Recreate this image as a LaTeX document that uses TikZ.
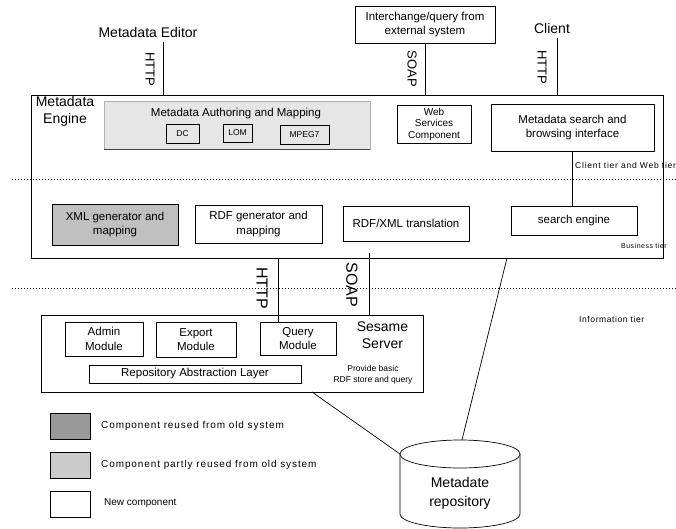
\documentclass[tikz,border=0pt]{standalone}
\usepackage{fontspec}
\setmainfont{Liberation Sans}
\newfontfamily\spacedfont[LetterSpace=9]{Liberation Sans}
\newfontfamily\lightspacedfont[LetterSpace=7]{Liberation Sans}
\definecolor{authfill}{HTML}{E6E6E6}
\definecolor{reusedfill}{HTML}{C0C0C0}
\definecolor{legdark}{HTML}{999999}
\definecolor{leglight}{HTML}{CCCCCC}
\begin{document}
\begin{tikzpicture}[x=1pt,y=-1pt,
  comp/.style={draw, line width=0.7pt, inner sep=0pt, align=center, font=\fontsize{11.5}{14.5}\selectfont},
  tagbox/.style={draw, line width=0.7pt, inner sep=0pt, font=\fontsize{8.5}{10}\selectfont},
  bigtext/.style={align=center, inner sep=0pt, font=\fontsize{14}{17.5}\selectfont},
  proto/.style={rotate=-90, inner sep=0pt, font=\fontsize{13}{13}\selectfont},
  protobig/.style={rotate=-90, inner sep=0pt, font=\fontsize{16}{16}\selectfont},
  link/.style={line width=0.7pt},
  tierline/.style={line width=0.9pt, dash pattern=on 0.9pt off 2.1pt},
  tiertext/.style={anchor=west, inner sep=0pt},
  legbox/.style={draw, line width=0.7pt, minimum width=40pt, minimum height=26pt, inner sep=0pt},
  legtext/.style={anchor=west, inner sep=0pt, font=\spacedfont\fontsize{10}{12}\selectfont},
]
\useasboundingbox (0,0) rectangle (676,529);

% tier separators
\draw[tierline] (12,179) -- (676,179);
\draw[tierline] (12,288) -- (676,288);

% outer engine frame
\node[draw, line width=0.7pt, minimum width=632pt, minimum height=163pt, inner sep=0pt] (engine) at (347,176.5) {};
\node[bigtext] (enginelbl) at (65,111.5) {Metadata\\Engine};

% authoring and mapping block
\node[fill=authfill, draw=black!30, line width=0.7pt, minimum width=266pt, minimum height=48pt, inner sep=0pt] (auth) at (237,125) {};
\draw[line width=0.8pt, black!75] (auth.south west) -- (auth.south east);
\node[inner sep=0pt, font=\fontsize{11.5}{14}\selectfont] (authlbl) at (236,114) {Metadata Authoring and Mapping};
\node[tagbox, minimum width=33pt, minimum height=19pt] (dc) at (182.5,133.5) {DC};
\node[tagbox, minimum width=29pt, minimum height=18pt] (lom) at (237.5,133) {LOM};
\node[tagbox, minimum width=49pt, minimum height=19pt] (mpeg) at (304.5,134.5) {MPEG7};

% client / web tier components
\node[comp, minimum width=74pt, minimum height=38pt, font=\fontsize{10}{11.5}\selectfont] (ws) at (434,124) {Web\\Services\\Component};
\node[comp, minimum width=163pt, minimum height=47pt] (msb) at (572.5,127.5) {Metadata search and\\browsing interface};

% external actors
\node[comp, minimum width=140pt, minimum height=37pt] (inter) at (425,24.5) {Interchange/query from\\external system};
\node[inner sep=0pt, font=\fontsize{14}{17}\selectfont] (editor) at (148,32) {Metadata Editor};
\node[inner sep=0pt, font=\fontsize{14}{17}\selectfont] (client) at (552,28) {Client};

% business tier components
\node[comp, fill=reusedfill, minimum width=126pt, minimum height=41pt] (xmlgen) at (115,224.5) {XML generator and\\mapping};
\node[comp, minimum width=127pt, minimum height=38pt] (rdfgen) at (258.5,224) {RDF generator and\\mapping};
\node[comp, minimum width=126pt, minimum height=35pt] (rdfxml) at (406,223.5) {RDF/XML translation};
\node[comp, minimum width=126pt, minimum height=29pt] (search) at (574,220.5) {search engine};

% Sesame server
\node[draw, line width=0.7pt, minimum width=382pt, minimum height=77pt, inner sep=0pt] (sesame) at (232,353.5) {};
\node[comp, minimum width=78pt, minimum height=34pt] (admin) at (104,339) {Admin\\Module};
\node[comp, minimum width=80pt, minimum height=35pt] (export) at (196,339.5) {Export\\Module};
\node[comp, minimum width=76pt, minimum height=33pt] (query) at (298,338.5) {Query\\Module};
\node[comp, minimum width=212pt, minimum height=18pt] (ral) at (195,374) {Repository Abstraction Layer};
\node[bigtext] (sesamelbl) at (382.5,335) {Sesame\\Server};
\node[align=center, inner sep=0pt, font=\fontsize{8.5}{11}\selectfont] (sesamenote) at (373,374.5) {Provide basic\\RDF store and query};

% tier names
\node[tiertext, font=\spacedfont\fontsize{8.5}{10}\selectfont] (tierweb) at (575,165) {Client tier and Web tier};
\node[tiertext, font=\lightspacedfont\fontsize{7}{9}\selectfont] (tierbus) at (621,246) {Business tier};
\node[tiertext, font=\lightspacedfont\fontsize{8.5}{10}\selectfont] (tierinfo) at (579,319) {Information tier};

% connection points
\coordinate (edln) at (163,42);
\coordinate (clln) at (557,38);
\coordinate (httpdn) at (278,258);
\coordinate (soaptop) at (369,253);
\coordinate (engbot) at (507,258);
\coordinate (sesbot) at (312,392);
\coordinate (cyltop) at (462,440);
\coordinate (cylleft) at (400,454);

% connectors
\draw[link] (edln) -- (edln |- engine.north);
\draw[link] (inter.south) -- (inter.south |- engine.north);
\draw[link] (clln) -- (clln |- engine.north);
\draw[link] (msb.south) -- (msb.south |- search.north);
\draw[link] (httpdn) -- (httpdn |- query.north);
\draw[link] (soaptop) -- (soaptop |- sesame.north);
\draw[link] (engbot) -- (cyltop);
\draw[link] (sesbot) -- (cylleft);

% protocol labels
\node[proto] (httpa) at (150,69) {HTTP};
\node[proto] (soapa) at (412,69) {SOAP};
\node[proto] (httpb) at (542,67) {HTTP};
\node[protobig] (httpc) at (262,288) {HTTP};
\node[protobig] (soapb) at (352,285) {SOAP};

% metadata repository cylinder
\draw[link, fill=white] (400,454) -- (400,514)
  arc[start angle=180, end angle=360, x radius=60pt, y radius=14pt] -- (520,454);
\draw[link, fill=white] (460,454) ellipse[x radius=60pt, y radius=14pt];
\node[bigtext, font=\fontsize{14}{19}\selectfont] (repo) at (460,493) {Metadate\\repository};

% legend
\node[legbox, fill=legdark] (legA) at (70,426) {};
\node[legbox, fill=leglight] (legB) at (70,465) {};
\node[legbox] (legC) at (70,504) {};
\node[legtext] (legAt) at (101,426) {Component reused from old system};
\node[legtext] (legBt) at (101,465) {Component partly reused from old system};
\node[legtext, font=\fontsize{10}{12}\selectfont] (legCt) at (104,503) {New component};
\end{tikzpicture}
\end{document}
